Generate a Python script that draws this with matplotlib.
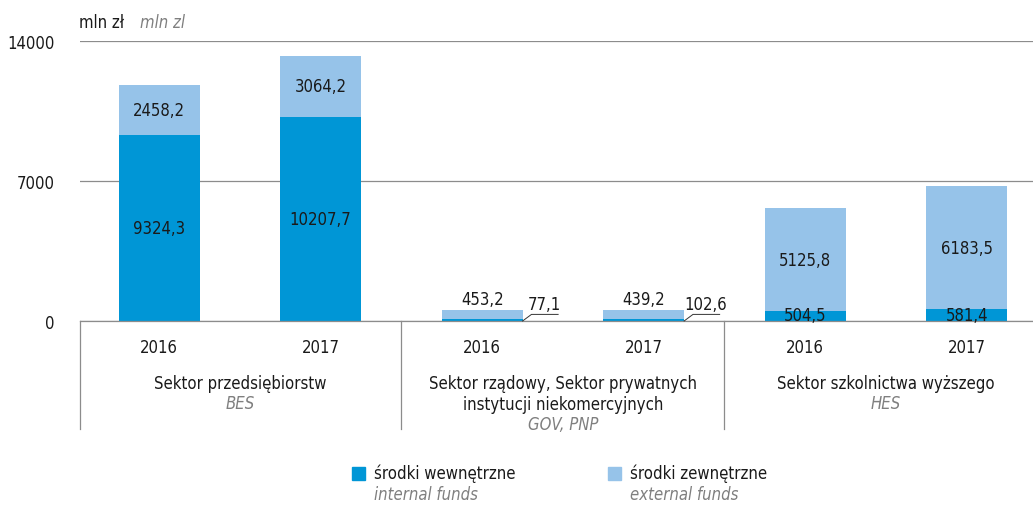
import matplotlib.pyplot as plt
import numpy as np

# data
years = ['2016', '2017', '2016', '2017', '2016', '2017']
internal = [9324.3, 10207.7, 77.1, 102.6, 504.5, 581.4]
external = [2458.2, 3064.2, 453.2, 439.2, 5125.8, 6183.5]
groups = [['Sektor przedsiębiorstw'],
          ['Sektor rządowy, Sektor prywatnych', 'instytucji niekomercyjnych'],
          ['Sektor szkolnictwa wyższego']]
groups_en = ['BES', 'GOV, PNP', 'HES']

plt.rcParams['font.family'] = ['DejaVu Sans']
plt.rcParams['font.stretch'] = 'condensed'
plt.rcParams['text.color'] = '#1a1a1a'

dark = '#0096d6'
light = '#96c3e9'
gray = '#7f7f7f'
line_c = '#8c8c8c'
fs = 12

def fmt(v):
    return f'{v:.1f}'.replace('.', ',')

fig = plt.figure(figsize=(10.33, 5.06), dpi=100)
ax = fig.add_axes([80 / 1033, 1 - 322 / 506, 953 / 1033, 280 / 506])

x = np.arange(len(years))
ax.bar(x, internal, width=0.5, color=dark, zorder=3)
ax.bar(x, external, width=0.5, bottom=internal, color=light, zorder=3)

ax.set_xlim(-0.49, 5.41)
ax.set_ylim(0, 14000)
ax.set_yticks([0, 7000, 14000])
ax.set_yticklabels(['0', '7000', '14000'], fontsize=fs, color='#1a1a1a')
ax.tick_params(axis='y', length=0, pad=18)
ax.tick_params(axis='x', length=0, labelbottom=False)
ax.grid(axis='y', color=line_c, linewidth=0.9, zorder=0)
for s in ['top', 'right', 'left']:
    ax.spines[s].set_visible(False)
ax.spines['bottom'].set_color(line_c)
ax.spines['bottom'].set_linewidth(0.9)
ax.spines['bottom'].set_zorder(4)

fig.text(79 / 1033, 1 - 23 / 506, 'mln zł', fontsize=fs, va='center', ha='left')
fig.text(140 / 1033, 1 - 23 / 506, 'mln zl', fontsize=fs, va='center', ha='left',
         style='italic', color=gray)

# value labels
for i in range(len(years)):
    tot = internal[i] + external[i]
    if internal[i] > 2000:
        ax.text(x[i], internal[i] / 2, fmt(internal[i]), ha='center', va='center', fontsize=fs, zorder=5)
        ax.text(x[i], internal[i] + external[i] / 2, fmt(external[i]), ha='center', va='center', fontsize=fs, zorder=5)
    elif external[i] > 2000:
        ax.text(x[i], internal[i] / 2 + 30, fmt(internal[i]), ha='center', va='center', fontsize=fs, zorder=5)
        ax.text(x[i], internal[i] + external[i] / 2, fmt(external[i]), ha='center', va='center', fontsize=fs, zorder=5)
    else:
        ax.text(x[i], tot + 120, fmt(external[i]), ha='center', va='bottom', fontsize=fs, zorder=5)
        ax.plot([x[i] + 0.25, x[i] + 0.305, x[i] + 0.47], [0, 330, 330], color='#333333',
                linewidth=0.7, clip_on=False, zorder=5)
        ax.text(x[i] + 0.385, 380, fmt(internal[i]), ha='center', va='bottom', fontsize=fs, zorder=5)

# category axis below
tr = ax.get_xaxis_transform()
for xd in [-0.49, 1.5, 3.5]:
    ax.plot([xd, xd], [0, -0.385], transform=tr, color=line_c, linewidth=0.9, clip_on=False)
for i, yr in enumerate(years):
    ax.text(x[i], -0.093, yr, transform=tr, ha='center', va='center', fontsize=fs)
for g, (lines, en) in enumerate(zip(groups, groups_en)):
    cx = 2 * g + 0.5
    yy = -0.22
    for ln in lines:
        ax.text(cx, yy, ln, transform=tr, ha='center', va='center', fontsize=fs)
        yy -= 0.075
    ax.text(cx, yy + 0.003, en, transform=tr, ha='center', va='center', fontsize=fs,
            style='italic', color=gray)

# legend
for lx, col, pl, en in [(352, dark, 'środki wewnętrzne', 'internal funds'),
                        (608, light, 'środki zewnętrzne', 'external funds')]:
    fig.patches.append(plt.Rectangle((lx / 1033, 1 - 481 / 506), 13 / 1033, 13 / 506,
                                     transform=fig.transFigure, color=col))
    fig.text((lx + 22) / 1033, 1 - 474 / 506, pl, fontsize=fs, va='center', ha='left')
    fig.text((lx + 22) / 1033, 1 - 495 / 506, en, fontsize=fs, va='center', ha='left',
             style='italic', color=gray)

fig.savefig('out.png', dpi=100)
